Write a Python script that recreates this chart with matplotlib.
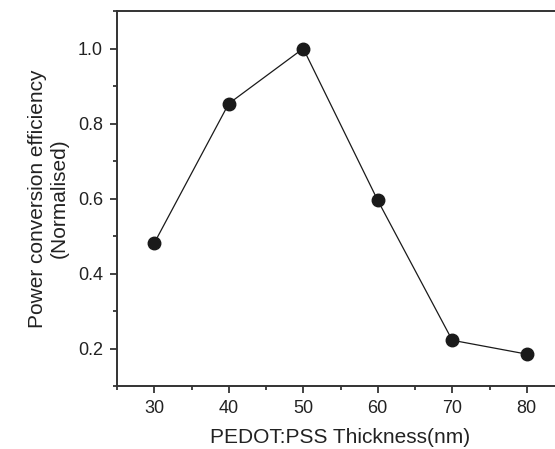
import numpy as np
from matplotlib import pyplot as plt
from matplotlib.ticker import MultipleLocator

plt.rcParams['font.family'] = ['Liberation Sans', 'DejaVu Sans']

thickness = [30, 40, 50, 60, 70, 80]
efficiency = [0.481, 0.853, 1.0, 0.595, 0.222, 0.185]

fig = plt.figure(figsize=(5.55, 4.49), dpi=100)
ax = fig.add_axes([117 / 555, 1 - 386 / 449, (564 - 117) / 555, (386 - 11) / 449])

ax.plot(thickness, efficiency, color='#1a1a1a', linewidth=0.9,
        marker='o', markersize=9, markerfacecolor='#1a1a1a', markeredgecolor='#1a1a1a')

ax.set_xlim(25, 85)
ax.set_ylim(0.1, 1.1)
ax.xaxis.set_major_locator(MultipleLocator(10))
ax.xaxis.set_minor_locator(MultipleLocator(5))
ax.yaxis.set_major_locator(MultipleLocator(0.2))
ax.yaxis.set_minor_locator(MultipleLocator(0.1))
ax.set_yticks([0.2, 0.4, 0.6, 0.8, 1.0])
ax.set_yticklabels(['0.2', '0.4', '0.6', '0.8', '1.0'])

ax.tick_params(which='major', direction='out', length=5, width=1.2, labelsize=13,
               colors='#222222', pad=5)
ax.tick_params(which='minor', direction='out', length=3, width=1.2, colors='#222222')
for side in ['left', 'bottom', 'top', 'right']:
    ax.spines[side].set_linewidth(1.4)
    ax.spines[side].set_color('#333333')

ax.set_xlabel('PEDOT:PSS Thickness(nm)', fontsize=15, color='#222222', labelpad=8)
ax.set_ylabel('Power conversion efficiency\n(Normalised)', fontsize=15, color='#222222',
              labelpad=7, linespacing=1.15)

fig.savefig('out.png', dpi=100)
